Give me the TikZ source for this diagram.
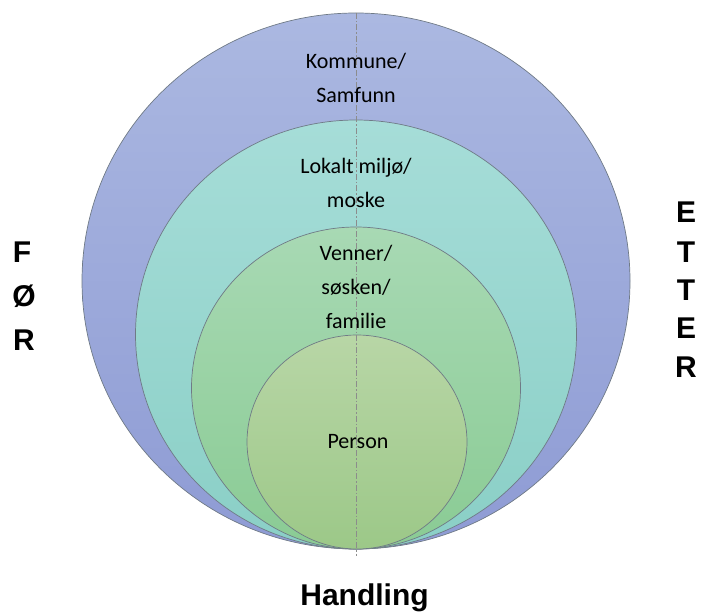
\documentclass[tikz,border=0pt]{standalone}
\usepackage{fontspec}
\setmainfont{Carlito}
\newfontfamily\headfont{Liberation Sans}
\usetikzlibrary{shapes.geometric}

\definecolor{ringAtop}{HTML}{ABB8E1}
\definecolor{ringAbot}{HTML}{8E9BD4}
\definecolor{ringBtop}{HTML}{A6DDD8}
\definecolor{ringBbot}{HTML}{8ACFC6}
\definecolor{ringCtop}{HTML}{A8D9B4}
\definecolor{ringCbot}{HTML}{8ACB94}
\definecolor{ringDtop}{HTML}{B8D6A6}
\definecolor{ringDbot}{HTML}{9CC888}
\definecolor{ringedge}{HTML}{6F7A86}
\definecolor{axisgray}{HTML}{8C8C8C}

\tikzset{
  ring/.style={draw=ringedge, line width=0.7pt},
  ringlabel/.style={font=\fontsize{22}{34}\selectfont, align=center, inner sep=0pt, anchor=base, text=black},
  sidelabel/.style={font=\headfont\bfseries\fontsize{30}{30}\selectfont, inner sep=0pt, anchor=base, text=black},
  midaxis/.style={draw=axisgray, line width=0.9pt, dash pattern=on 6pt off 2pt on 1.5pt off 2pt}
}

\begin{document}
\begin{tikzpicture}[x=1pt,y=-1pt]
  \useasboundingbox (0,0) rectangle (701,612);

  % nested rings, all touching at the bottom
  \draw[ring, top color=ringAtop, bottom color=ringAbot] (356,281) ellipse [x radius=274, y radius=268];
  \draw[ring, top color=ringBtop, bottom color=ringBbot] (356,334.5) ellipse [x radius=220.5, y radius=214.5];
  \draw[ring, top color=ringCtop, bottom color=ringCbot] (356,388) ellipse [x radius=164.5, y radius=161];
  \draw[ring, top color=ringDtop, bottom color=ringDbot] (357,442) ellipse [x radius=110, y radius=107];

  % vertical dividing line between before and after
  \coordinate (axistop) at (356,13);
  \coordinate (axisbot) at (356,556);
  \draw[midaxis] (axistop) -- (axisbot);

  % ring labels (anchored at the baseline of the last line)
  \node[ringlabel] (kommune) at (356,103) {Kommune/\\Samfunn};
  \node[ringlabel] (lokalt) at (356,208) {Lokalt miljø/\\moske};
  \node[ringlabel] (venner) at (356,328) {Venner/\\søsken/\\familie};
  \node[ringlabel] (person) at (358,448) {Person};

  % side and bottom headings
  \node[sidelabel] (for1) at (22,263) {F};
  \node[sidelabel] (for2) at (24,306.5) {Ø};
  \node[sidelabel] (for3) at (24,350) {R};

  \node[sidelabel] (etter1) at (686,223) {E};
  \node[sidelabel] (etter2) at (686,262) {T};
  \node[sidelabel] (etter3) at (686,300) {T};
  \node[sidelabel] (etter4) at (686,338) {E};
  \node[sidelabel] (etter5) at (686,377) {R};

  \node[sidelabel] (handling) at (364.5,605) {Handling};
\end{tikzpicture}
\end{document}
